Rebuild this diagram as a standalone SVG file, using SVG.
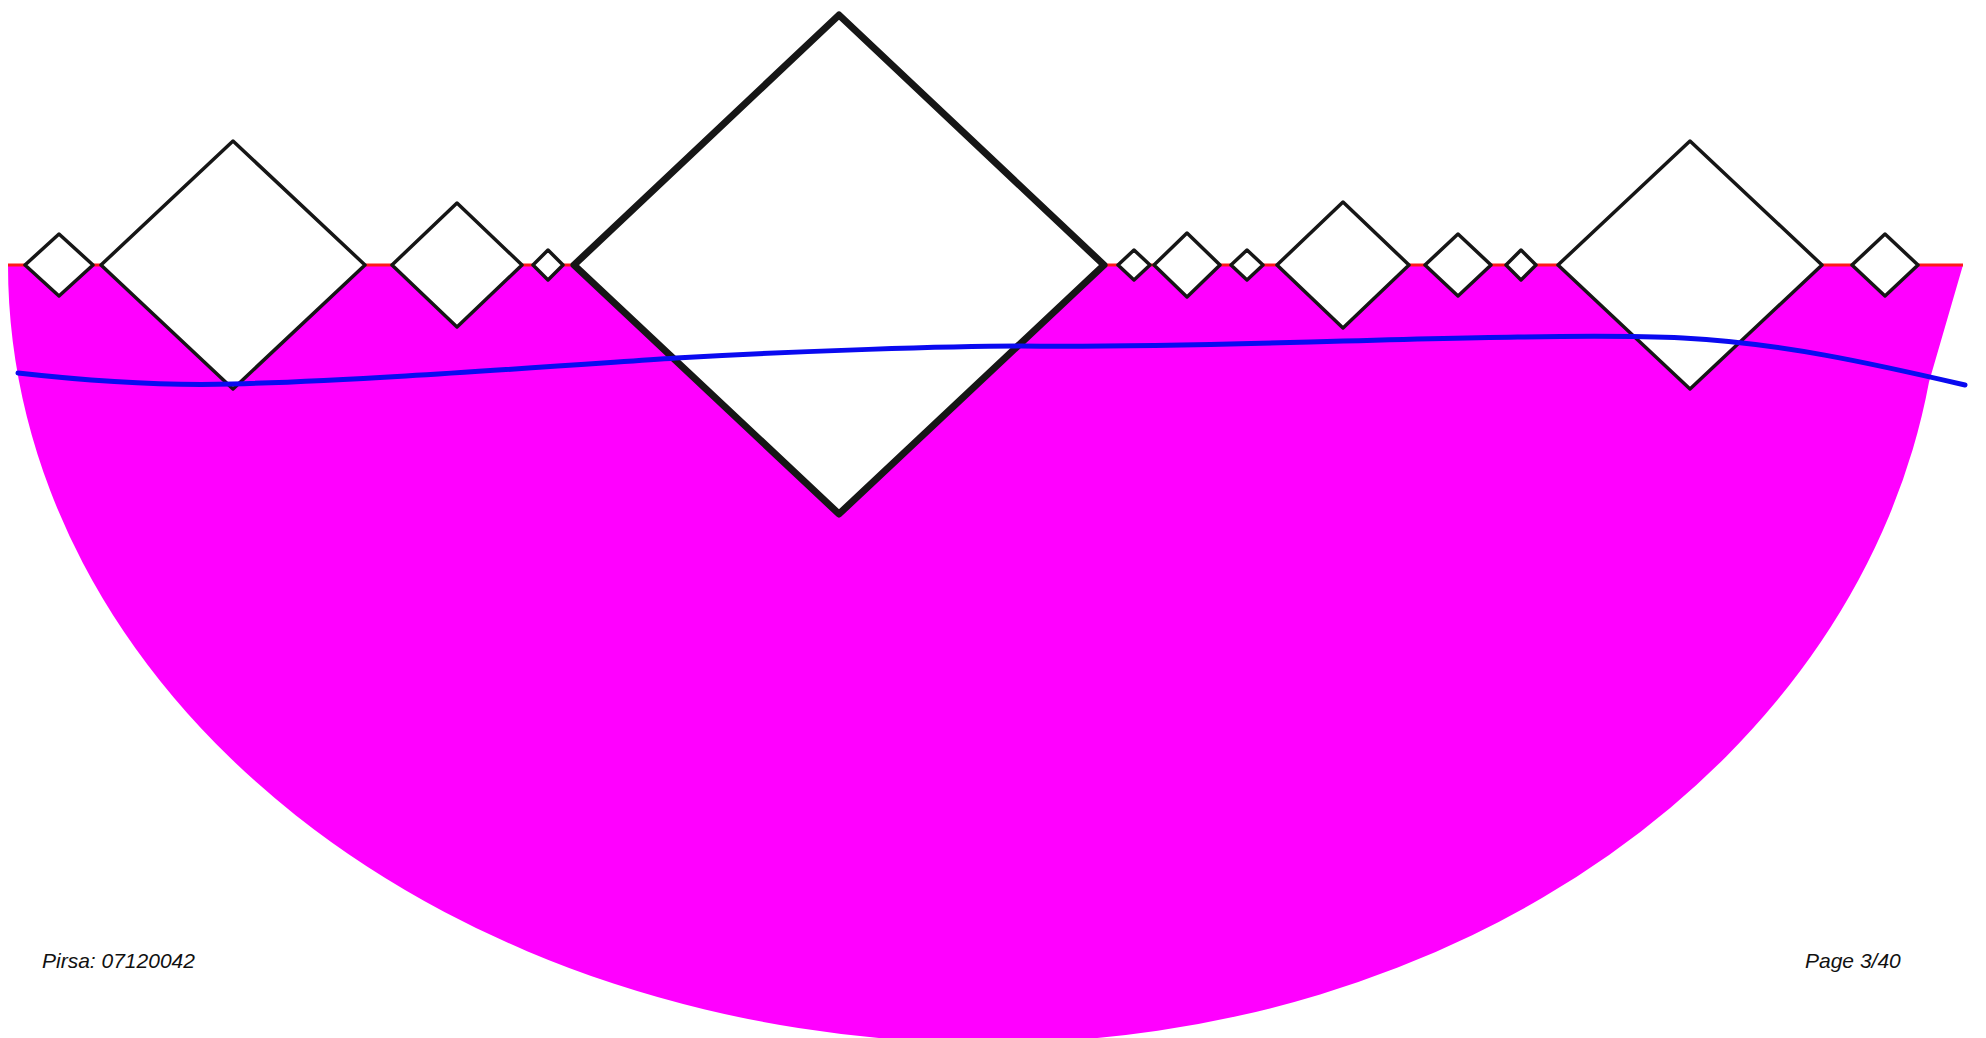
<svg xmlns="http://www.w3.org/2000/svg" width="1986" height="1038" viewBox="0 0 1986 1038">
<style>
.d{fill:#ffffff;stroke:#161616;stroke-width:3.5;stroke-linejoin:round}
.big{stroke-width:7}
.lbl{font-family:"Liberation Sans",Arial,sans-serif;font-style:italic;font-size:21px;fill:#111111}
</style>
<rect x="0" y="0" width="1986" height="1038" fill="#ffffff"/>
<g id="region">
<path fill="#ff00ff" d="M8,265 A982,778 0 0 0 990,1043 A950,778 0 0 0 1929,382 L1963,265 Z"/>
<line x1="8" y1="265" x2="1963" y2="265" stroke="#ff1a1a" stroke-width="3"/>
</g>
<g id="diamonds">
<g id="d1"><polygon class="d" points="25,265 59,234 93,265 59,296"/></g>
<g id="d2"><polygon class="d" points="101,265 233,141 365,265 233,389"/></g>
<g id="d3"><polygon class="d" points="392,265 457,203 522,265 457,327"/></g>
<g id="d4"><polygon class="d" points="533,265 548,250 563,265 548,280"/></g>
<g id="d5"><polygon class="d big" points="574,265 839,15 1104,265 839,514"/></g>
<g id="d6"><polygon class="d" points="1118,265 1134,250 1150,265 1134,280"/></g>
<g id="d7"><polygon class="d" points="1154,265 1187,233 1220,265 1187,297"/></g>
<g id="d8"><polygon class="d" points="1231,265 1247,250 1263,265 1247,280"/></g>
<g id="d9"><polygon class="d" points="1277,265 1343,202 1409,265 1343,328"/></g>
<g id="d10"><polygon class="d" points="1425,265 1458,234 1491,265 1458,296"/></g>
<g id="d11"><polygon class="d" points="1506,265 1521,250 1536,265 1521,280"/></g>
<g id="d12"><polygon class="d" points="1558,265 1690,141 1822,265 1690,389"/></g>
<g id="d13"><polygon class="d" points="1852,265 1885,234 1918,265 1885,296"/></g>
</g>
<g id="connectors">
<path fill="none" stroke="#0a0af0" stroke-width="5" stroke-linecap="round" d="M18,373 C80,380 160,386 232,384 C350,381 500,370 676,358 C800,351 950,346 1021,346 C1100,347 1200,345 1310,342 C1450,338 1600,334 1683,338 C1780,343 1870,363 1965,385"/>
</g>
<g id="labels">
<text class="lbl" x="42" y="968">Pirsa: 07120042</text>
<text class="lbl" x="1805" y="968">Page 3/40</text>
</g>
</svg>
